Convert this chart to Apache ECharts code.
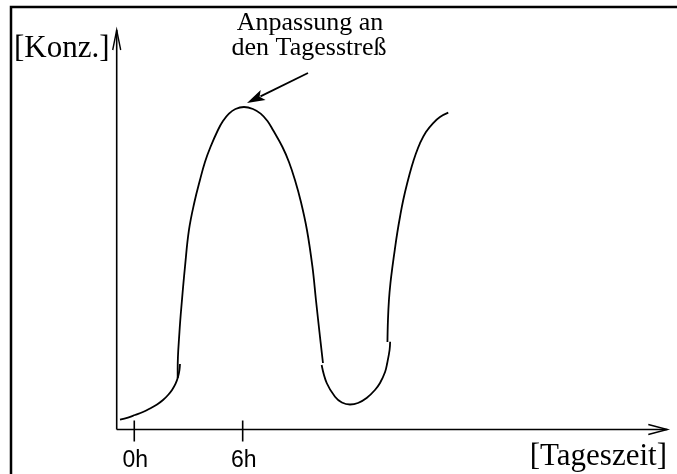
<!DOCTYPE html>
<html><head><meta charset="utf-8">
<script src="https://cdn.jsdelivr.net/npm/echarts@6/dist/echarts.min.js"></script>
<style>html,body{margin:0;padding:0;background:#fff}#c{width:677px;height:474px}</style>
</head><body><div id="c"></div>
<script>
// time in hours, concentration in arbitrary units (0..100)
const seg1X = [-0.79, -0.35, 0.04, 0.48, 0.87, 1.26, 1.59, 1.87, 2.09, 2.28, 2.42, 2.50, 2.53];
const seg1Y = [2.5, 3.0, 3.63, 4.38, 5.26, 6.26, 7.38, 8.64, 9.89, 11.39, 13.14, 14.89, 16.4];
const seg2X = [2.402, 2.402, 2.501, 2.640, 2.806, 3.027, 3.331, 3.636, 3.913, 4.217, 4.632, 4.909, 5.241, 5.600, 6.071,
               6.569, 6.995, 7.371, 7.676, 8.201, 8.561, 8.893, 9.225, 9.557, 9.862, 10.055, 10.249, 10.443];
const seg2Y = [12.89, 15.14, 24.41, 32.42, 40.68, 49.94, 56.95, 62.45, 66.96, 70.71, 74.97, 77.22, 79.07, 80.23, 80.73,
               80.23, 79.07, 77.22, 74.97, 70.71, 66.96, 62.45, 56.95, 49.94, 40.68, 32.42, 24.41, 16.65];
const seg3X = [10.37, 10.65, 11.11, 11.49, 11.94, 12.38, 12.86, 13.32, 13.60, 13.88, 14.0, 14.13, 14.16];
const seg3Y = [16.15, 11.64, 8.21, 6.76, 6.26, 6.63, 7.88, 9.89, 11.64, 14.39, 16.65, 19.9, 21.98];
const seg4X = [14.012, 14.040, 14.095, 14.178, 14.289, 14.416, 14.554, 14.715, 14.886, 15.108, 15.351, 15.578, 15.811, 16.143, 16.530, 16.918, 17.378];
const seg4Y = [21.90, 27.41, 32.42, 36.67, 40.75, 44.93, 49.19, 53.45, 57.45, 61.70, 65.78, 68.96, 71.64, 74.47, 76.65, 78.22, 79.30];
const tickValues = [0, 6];
const tickLabels = ['0h', '6h'];
const xName = '[Tageszeit]';
const yName = '[Konz.]';
const annotation = ['Anpassung an', 'den Tagesstreß'];

const zip = (xs, ys) => xs.map((x, i) => [x, ys[i]]);
const chart = echarts.init(document.getElementById('c'), null, {renderer: 'canvas'});
const lineSeries = (xs, ys, s) => ({
  type: 'line', data: zip(xs, ys), symbol: 'none', smooth: s, animation: false,
  lineStyle: {color: '#000', width: 1.8}
});
chart.setOption({
  animation: false,
  backgroundColor: '#fff',
  grid: {left: 116.2, right: 9.7, top: 30, bottom: 44.5},
  xAxis: {type: 'value', min: -1, max: 29.5, show: false},
  yAxis: {type: 'value', min: 0, max: 100, show: false},
  series: [lineSeries(seg1X, seg1Y, 0.4), lineSeries(seg2X, seg2Y, 0.4), lineSeries(seg3X, seg3Y, 0.4), lineSeries(seg4X, seg4Y, 0.4)]
});

const x0 = chart.convertToPixel({xAxisIndex: 0}, -1);
const x1 = chart.convertToPixel({xAxisIndex: 0}, 29.5);
const y0 = chart.convertToPixel({yAxisIndex: 0}, 0);
const y1 = chart.convertToPixel({yAxisIndex: 0}, 100);
const ax = x0 + 0.5;
const stroke = {stroke: '#000', lineWidth: 1.6};
const g = [];
// border
g.push({type: 'rect', shape: {x: 11, y: 7, width: 700, height: 500}, style: {fill: 'none', stroke: '#000', lineWidth: 2.5}});
// axes
g.push({type: 'line', shape: {x1: ax, y1: y0, x2: x1, y2: y0}, style: stroke});
g.push({type: 'line', shape: {x1: ax, y1: y0, x2: ax, y2: y1}, style: stroke});
g.push({type: 'polyline', shape: {points: [[x1 - 19, y0 - 5], [x1, y0], [x1 - 19, y0 + 5]]}, style: {stroke: '#000', lineWidth: 1.4, fill: 'none'}});
g.push({type: 'polyline', shape: {points: [[ax - 4, y1 + 20], [ax, y1], [ax + 4, y1 + 20]]}, style: {stroke: '#000', lineWidth: 1.4, fill: 'none'}});
// ticks and labels
tickValues.forEach((v, i) => {
  const px = chart.convertToPixel({xAxisIndex: 0}, v);
  g.push({type: 'line', shape: {x1: px, y1: y0 - 9, x2: px, y2: y0 + 12}, style: stroke});
  g.push({type: 'text', x: px + 1, y: y0 + 31, style: {text: tickLabels[i], font: '23px "Liberation Sans", Arial, sans-serif', fill: '#000', align: 'center', verticalAlign: 'middle'}});
});
// axis names
g.push({type: 'text', x: 667, y: y0 + 27, style: {text: xName, font: '31px "Liberation Serif", "Times New Roman", serif', fill: '#000', align: 'right', verticalAlign: 'middle'}});
g.push({type: 'text', x: 14, y: 49, style: {text: yName, font: '31px "Liberation Serif", "Times New Roman", serif', fill: '#000', align: 'left', verticalAlign: 'middle'}});
// annotation
g.push({type: 'text', x: 310, y: 23, style: {text: annotation[0], font: '26px "Liberation Serif", "Times New Roman", serif', fill: '#000', align: 'center', verticalAlign: 'middle'}});
g.push({type: 'text', x: 309, y: 48, style: {text: annotation[1], font: '26px "Liberation Serif", "Times New Roman", serif', fill: '#000', align: 'center', verticalAlign: 'middle'}});
const tipX = 247, tipY = 103, fromX = 308, fromY = 73;
const ang = Math.atan2(tipY - fromY, tipX - fromX);
const hl = 18, hw = 5.5;
const bx = tipX - hl * Math.cos(ang), by = tipY - hl * Math.sin(ang);
const nx = -Math.sin(ang), ny = Math.cos(ang);
g.push({type: 'line', shape: {x1: fromX, y1: fromY, x2: bx + 3 * Math.cos(ang), y2: by + 3 * Math.sin(ang)}, style: {stroke: '#000', lineWidth: 1.8}});
g.push({type: 'polygon', shape: {points: [[tipX, tipY], [bx + hw * nx, by + hw * ny], [bx + 4 * Math.cos(ang), by + 4 * Math.sin(ang)], [bx - hw * nx, by - hw * ny]]}, style: {fill: '#000'}});
chart.setOption({graphic: g});
</script>
</body></html>
